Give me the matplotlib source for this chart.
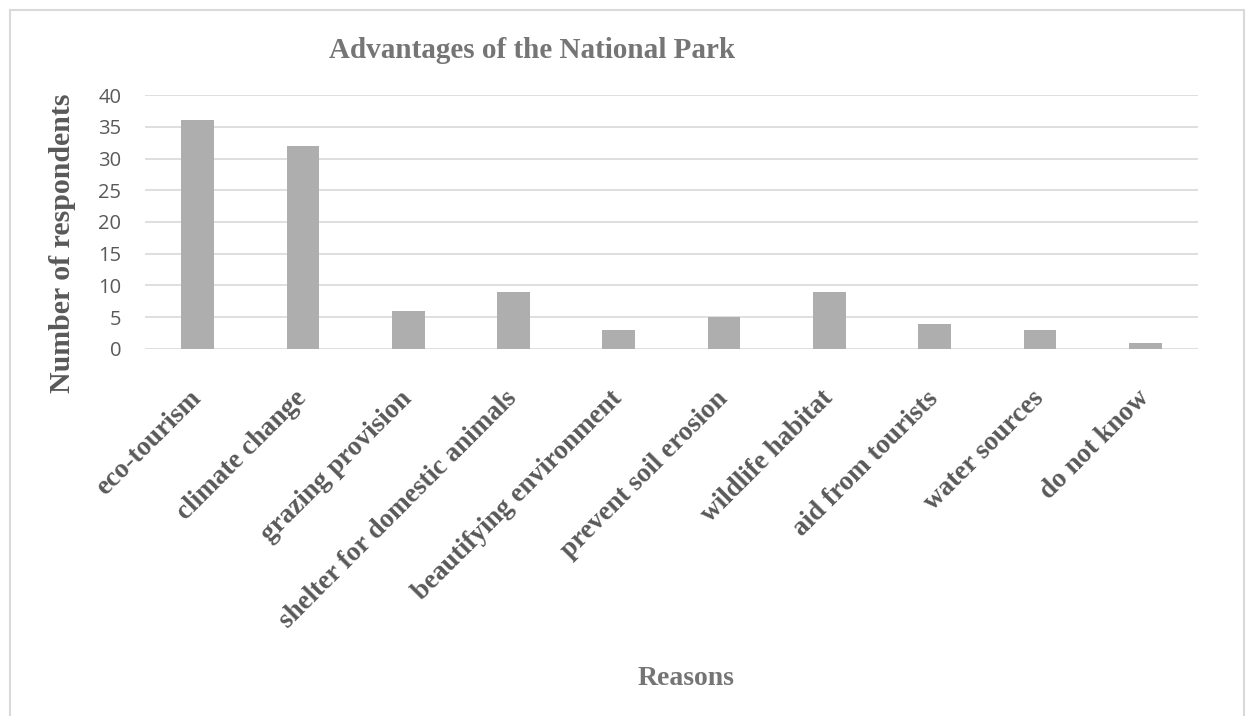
import matplotlib.pyplot as plt
from matplotlib.patches import Rectangle

reasons = ["eco-tourism", "climate change", "grazing provision",
           "shelter for domestic animals", "beautifying environment",
           "prevent soil erosion", "wildlife habitat", "aid from tourists",
           "water sources", "do not know"]
respondents = [36, 32, 6, 9, 3, 5, 9, 4, 3, 1]

serif = ["Liberation Serif", "DejaVu Serif"]

fig = plt.figure(figsize=(12.54, 7.16), dpi=100)
ax = fig.add_axes([0.1156, 0.5126, 0.8397, 0.3547])

x = range(len(reasons))
ax.bar(x, respondents, width=0.31, color="#AEAEAE", zorder=3)

ax.set_ylim(0, 40)
ax.set_xlim(-0.5, len(reasons) - 0.5)
ax.set_yticks(range(0, 41, 5))
ax.yaxis.grid(True, color="#D9D9D9", linewidth=1.2, zorder=0)
for s in ax.spines.values():
    s.set_visible(False)
ax.tick_params(axis="both", length=0)
ax.tick_params(axis="y", labelsize=14.5, labelcolor="#595959", pad=17)
for t in ax.get_yticklabels():
    t.set_family(["Open Sans", "DejaVu Sans"])

ax.set_xticks(list(x))
ax.set_xticklabels(reasons, rotation=45, ha="right", va="center", rotation_mode="anchor",
                   family=serif, fontweight="bold", fontsize=19.5, color="#595959")
ax.tick_params(axis="x", pad=33)

fig.text(0.424, 0.93, "Advantages of the National Park", ha="center", va="center",
         family=serif, fontweight="bold", fontsize=21, color="#757575")
fig.text(0.05, 0.66, "Number of respondents", ha="center", va="center", rotation=90,
         family=serif, fontweight="bold", fontsize=21.5, color="#595959")
fig.text(0.547, 0.052, "Reasons", ha="center", va="center",
         family=serif, fontweight="bold", fontsize=20, color="#757575")

# light frame around the chart area
fig.patches.append(Rectangle((0.008, -0.01), 0.984, 0.996, transform=fig.transFigure,
                             fill=False, edgecolor="#D9D9D9", linewidth=1.5))

fig.savefig("out.png", dpi=100, facecolor="white")
